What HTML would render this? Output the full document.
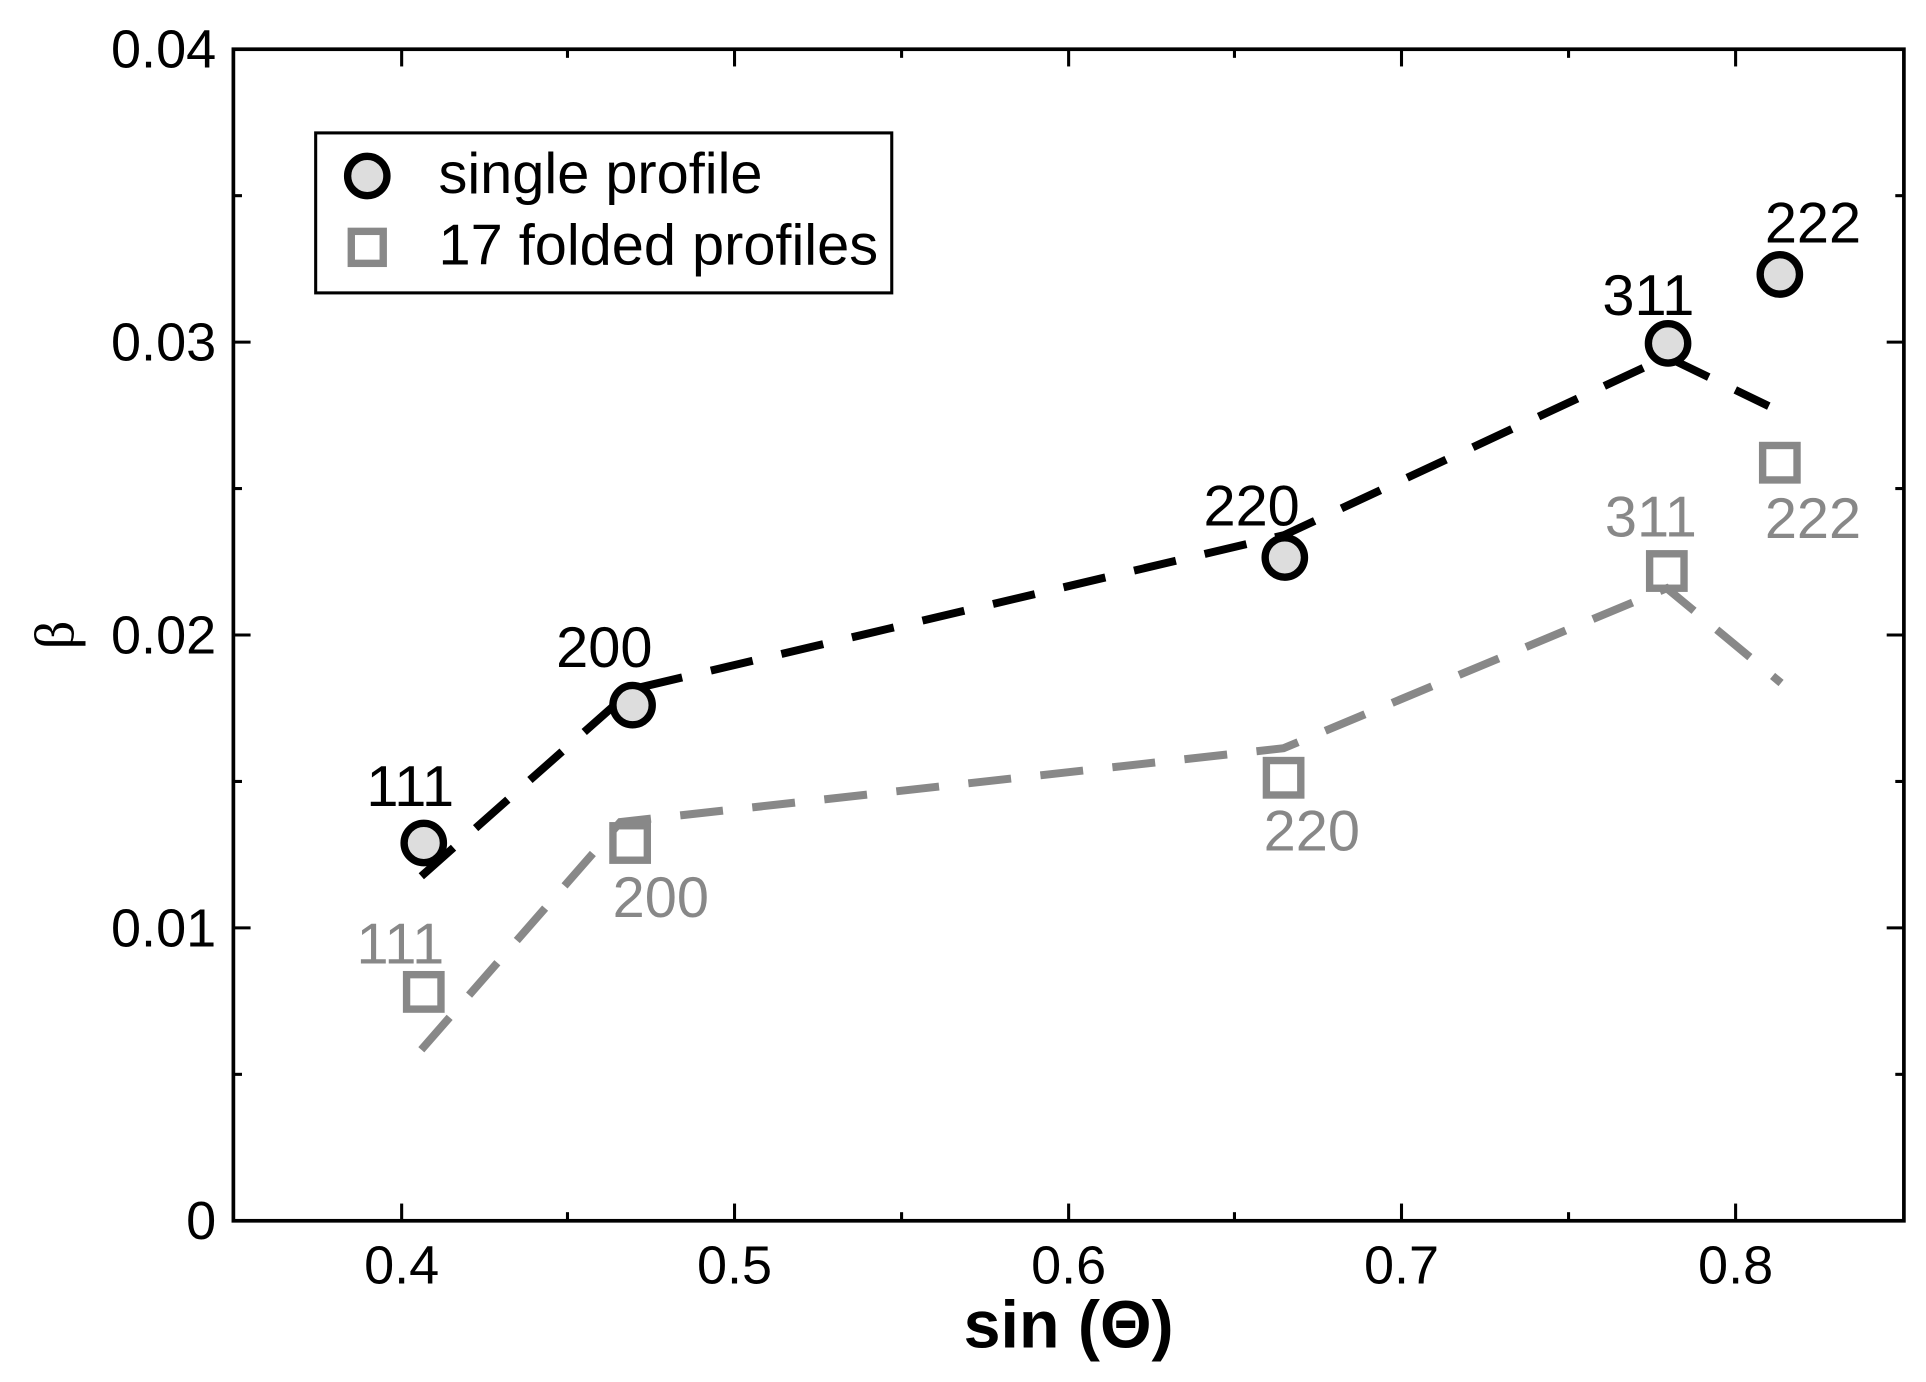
<!DOCTYPE html>
<html><head><style>html,body{margin:0;padding:0;background:#fff}svg{display:block}</style></head>
<body>
<svg width="1926" height="1382" viewBox="0 0 1568 1123" preserveAspectRatio="none" xmlns="http://www.w3.org/2000/svg" font-family="Liberation Sans, sans-serif">
<rect x="0" y="0" width="1568" height="1123" fill="#fff"/>
<rect x="190" y="40" width="1360" height="952" fill="none" stroke="#000" stroke-width="3"/>
<g stroke="#000" stroke-width="2.5">
<line x1="327" y1="992" x2="327" y2="978"/><line x1="327" y1="40" x2="327" y2="54"/>
<line x1="598" y1="992" x2="598" y2="978"/><line x1="598" y1="40" x2="598" y2="54"/>
<line x1="870" y1="992" x2="870" y2="978"/><line x1="870" y1="40" x2="870" y2="54"/>
<line x1="1141" y1="992" x2="1141" y2="978"/><line x1="1141" y1="40" x2="1141" y2="54"/>
<line x1="1413" y1="992" x2="1413" y2="978"/><line x1="1413" y1="40" x2="1413" y2="54"/>
<line x1="462" y1="992" x2="462" y2="985"/><line x1="462" y1="40" x2="462" y2="47"/>
<line x1="734" y1="992" x2="734" y2="985"/><line x1="734" y1="40" x2="734" y2="47"/>
<line x1="1005" y1="992" x2="1005" y2="985"/><line x1="1005" y1="40" x2="1005" y2="47"/>
<line x1="1277" y1="992" x2="1277" y2="985"/><line x1="1277" y1="40" x2="1277" y2="47"/>
<line x1="190" y1="754" x2="204" y2="754"/><line x1="1550" y1="754" x2="1536" y2="754"/>
<line x1="190" y1="516" x2="204" y2="516"/><line x1="1550" y1="516" x2="1536" y2="516"/>
<line x1="190" y1="278" x2="204" y2="278"/><line x1="1550" y1="278" x2="1536" y2="278"/>
<line x1="190" y1="873" x2="197" y2="873"/><line x1="1550" y1="873" x2="1543" y2="873"/>
<line x1="190" y1="635" x2="197" y2="635"/><line x1="1550" y1="635" x2="1543" y2="635"/>
<line x1="190" y1="397" x2="197" y2="397"/><line x1="1550" y1="397" x2="1543" y2="397"/>
<line x1="190" y1="159" x2="197" y2="159"/><line x1="1550" y1="159" x2="1543" y2="159"/>
</g>
<g font-size="44" text-anchor="middle" fill="#000">
<text x="327" y="1043">0.4</text><text x="598" y="1043">0.5</text><text x="870" y="1043">0.6</text><text x="1141" y="1043">0.7</text><text x="1413" y="1043">0.8</text>
</g>
<g font-size="44" text-anchor="end" fill="#000">
<text x="176" y="1007">0</text><text x="176" y="769">0.01</text><text x="176" y="531">0.02</text><text x="176" y="293">0.03</text><text x="176" y="55">0.04</text>
</g>
<text x="870" y="1095" font-size="54" font-weight="bold" text-anchor="middle">sin (Θ)</text>
<text x="60" y="516" font-size="46" text-anchor="middle" transform="rotate(-90 60 516)" font-family="Liberation Serif, serif">β</text>
<polyline points="343,712 515,560 1045,435 1357,290 1440,330" fill="none" stroke="#000" stroke-width="6.5" stroke-dasharray="35,24"/>
<polyline points="343,853 505,668 1045,608 1357,478 1450,555" fill="none" stroke="#888" stroke-width="6.5" stroke-dasharray="35,24"/>
<g fill="none" stroke="#888" stroke-width="6">
<rect x="331" y="792" width="28" height="28"/>
<rect x="499" y="671" width="28" height="28"/>
<rect x="1031" y="618" width="28" height="28"/>
<rect x="1343" y="450" width="28" height="28"/>
<rect x="1435" y="362" width="28" height="28"/>
</g>
<g fill="#ddd" stroke="#000" stroke-width="6">
<circle cx="345" cy="685" r="16"/>
<circle cx="515" cy="573" r="16"/>
<circle cx="1046" cy="453" r="16"/>
<circle cx="1358" cy="279" r="16"/>
<circle cx="1449" cy="223" r="16"/>
</g>
<g font-size="47" fill="#000" text-anchor="middle">
<text x="334" y="655">111</text><text x="492" y="542">200</text><text x="1019" y="427">220</text><text x="1342" y="256">311</text><text x="1476" y="197">222</text>
</g>
<g font-size="47" fill="#888" text-anchor="middle">
<text x="326" y="783">111</text><text x="538" y="745">200</text><text x="1068" y="691">220</text><text x="1344" y="436">311</text><text x="1476" y="437">222</text>
</g>
<rect x="257" y="108" width="469" height="130" fill="#fff" stroke="#000" stroke-width="2.5"/>
<circle cx="299" cy="143" r="16" fill="#ddd" stroke="#000" stroke-width="6"/>
<rect x="286" y="188" width="26" height="26" fill="none" stroke="#888" stroke-width="6"/>
<text x="357" y="157" font-size="47">single profile</text>
<text x="357" y="215" font-size="47">17 folded profiles</text>
</svg>
</body></html>
